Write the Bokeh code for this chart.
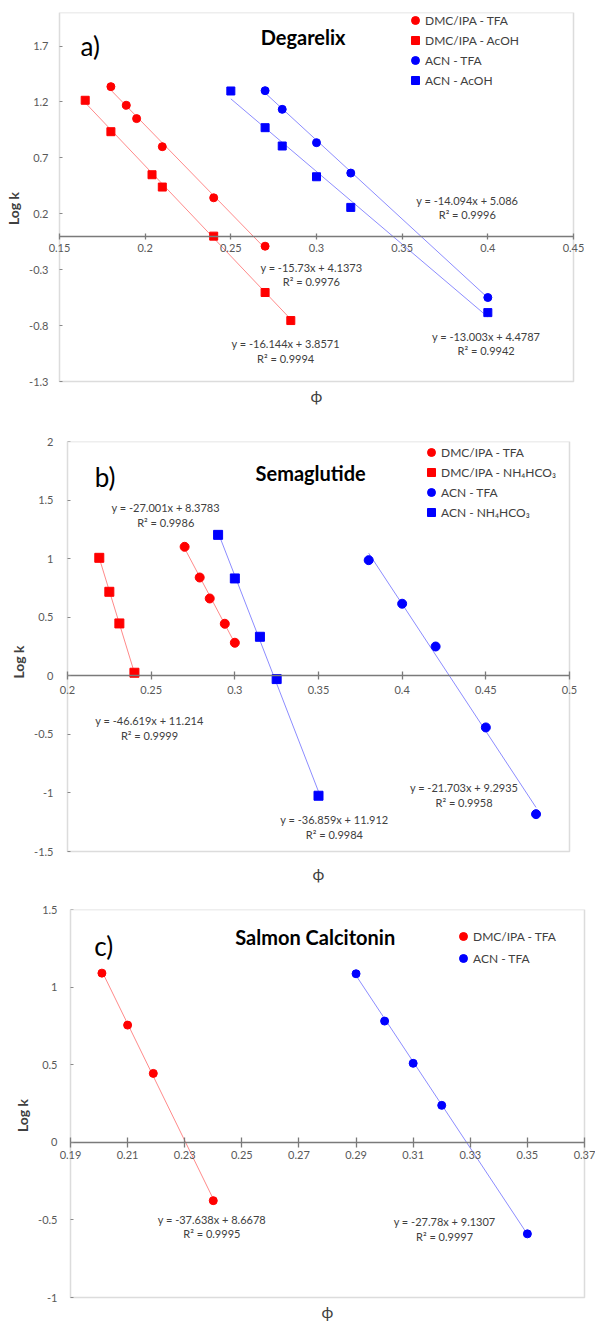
from bokeh.plotting import figure
from bokeh.layouts import column
from bokeh.models import (Range1d, FixedTicker, NumeralTickFormatter, Legend,
                          LegendItem, Label, LinearAxis, BoxAnnotation)
from bokeh.embed import file_html
from bokeh.resources import INLINE
from bokeh.core.properties import value

FONT = "Lato"
RED = "#ff0000"
BLUE = "#0000ff"
RED_LINE = "#ff8a8a"
BLUE_LINE = "#8c8cff"
FRAME = "#8a8a8a"

# ---------------- Panel a) Degarelix ----------------
A_X_TICKS = [0.15, 0.2, 0.25, 0.3, 0.35, 0.4, 0.45]
A_Y_TICKS = [-1.3, -0.8, -0.3, 0.2, 0.7, 1.2, 1.7]
A_DMC_TFA_X = [0.18, 0.189, 0.195, 0.21, 0.24, 0.27]
A_DMC_TFA_Y = [1.337, 1.170, 1.051, 0.800, 0.343, -0.090]
A_DMC_ACOH_X = [0.165, 0.18, 0.204, 0.21, 0.24, 0.27, 0.285]
A_DMC_ACOH_Y = [1.215, 0.934, 0.549, 0.439, 0.000, -0.504, -0.755]
A_ACN_TFA_X = [0.27, 0.28, 0.30, 0.32, 0.40]
A_ACN_TFA_Y = [1.301, 1.134, 0.836, 0.564, -0.549]
A_ACN_ACOH_X = [0.25, 0.27, 0.28, 0.30, 0.32, 0.40]
A_ACN_ACOH_Y = [1.298, 0.970, 0.806, 0.531, 0.257, -0.684]
A_NAMES = ["DMC/IPA - TFA", "DMC/IPA - AcOH", "ACN - TFA", "ACN - AcOH"]
A_SLOPES = [-15.73, -16.144, -14.094, -13.003]
A_INTERCEPTS = [4.1373, 3.8571, 5.086, 4.4787]
A_R2 = ["0.9976", "0.9994", "0.9996", "0.9942"]

# ---------------- Panel b) Semaglutide ----------------
B_X_TICKS = [0.2, 0.25, 0.3, 0.35, 0.4, 0.45, 0.5]
B_Y_TICKS = [-1.5, -1.0, -0.5, 0.0, 0.5, 1.0, 1.5, 2.0]
B_DMC_TFA_X = [0.27, 0.279, 0.285, 0.294, 0.30]
B_DMC_TFA_Y = [1.101, 0.839, 0.660, 0.444, 0.282]
B_DMC_NH4_X = [0.219, 0.225, 0.231, 0.24]
B_DMC_NH4_Y = [1.007, 0.717, 0.447, 0.026]
B_ACN_TFA_X = [0.38, 0.40, 0.42, 0.45, 0.48]
B_ACN_TFA_Y = [0.987, 0.615, 0.250, -0.441, -1.181]
B_ACN_NH4_X = [0.29, 0.30, 0.315, 0.325, 0.35]
B_ACN_NH4_Y = [1.203, 0.831, 0.333, -0.028, -1.024]
B_NAMES = ["DMC/IPA - TFA", "DMC/IPA - NH\u2084HCO\u2083", "ACN - TFA",
           "ACN - NH\u2084HCO\u2083"]
B_SLOPES = [-27.001, -46.619, -21.703, -36.859]
B_INTERCEPTS = [8.3783, 11.214, 9.2935, 11.912]
B_R2 = ["0.9986", "0.9999", "0.9958", "0.9984"]

# ---------------- Panel c) Salmon Calcitonin ----------------
C_X_TICKS = [0.19, 0.21, 0.23, 0.25, 0.27, 0.29, 0.31, 0.33, 0.35, 0.37]
C_Y_TICKS = [-1.0, -0.5, 0.0, 0.5, 1.0, 1.5]
C_DMC_TFA_X = [0.201, 0.21, 0.219, 0.24]
C_DMC_TFA_Y = [1.090, 0.755, 0.444, -0.376]
C_ACN_TFA_X = [0.29, 0.30, 0.31, 0.32, 0.35]
C_ACN_TFA_Y = [1.086, 0.781, 0.509, 0.238, -0.590]
C_NAMES = ["DMC/IPA - TFA", "ACN - TFA"]
C_SLOPES = [-37.638, -27.78]
C_INTERCEPTS = [8.6678, 9.1307]
C_R2 = ["0.9995", "0.9997"]

EX = 11  # px of frame beyond the plot box on left/right (room for edge tick labels)


def make_panel(cfg):
    x0, x1 = cfg["xr"]
    y0, y1 = cfg["yr"]
    bw, bh, eb = cfg["bw"], cfg["bh"], cfg["eb"]
    dx = EX * (x1 - x0) / bw
    dy = eb * (y1 - y0) / bh
    fw, fh = bw + 2 * EX, bh + eb
    p = figure(frame_width=fw, frame_height=fh,
               x_range=Range1d(x0 - dx, x1 + dx), y_range=Range1d(y0 - dy, y1),
               output_backend="svg", toolbar_location=None,
               min_border_left=cfg["bl"], min_border_right=0,
               min_border_top=cfg["bt"], min_border_bottom=cfg["bb"])
    p.frame_align = False
    p.xgrid.visible = False
    p.ygrid.visible = False
    p.outline_line_color = None
    p.background_fill_color = "white"
    p.border_fill_color = "white"

    p.add_layout(BoxAnnotation(left=x0, right=x1, bottom=y0, top=y1,
                               fill_alpha=0, line_color=FRAME, line_width=1.5))

    xa = p.xaxis[0]
    xa.fixed_location = 0
    xa.bounds = (x0, x1)
    xa.ticker = FixedTicker(ticks=cfg["xticks"])
    xa.formatter = NumeralTickFormatter(format="0.[00]")
    xa.major_tick_in = cfg["tick"]
    xa.major_tick_out = cfg["tick"]
    xa.minor_tick_line_color = None
    xa.axis_line_color = "#7a7a7a"
    xa.axis_line_width = 1.3
    xa.major_tick_line_color = "#7a7a7a"
    xa.major_tick_line_width = 1.3
    xa.major_label_standoff = cfg["xls"]
    xa.major_label_text_font = FONT
    xa.major_label_text_font_size = "11px"
    xa.major_label_text_color = "#595959"

    ya = p.yaxis[0]
    ya.bounds = (y0, y1)
    ya.ticker = FixedTicker(ticks=cfg["yticks"])
    ya.formatter = NumeralTickFormatter(format="0.[00]")
    ya.major_tick_in = 0
    ya.major_tick_out = 0
    ya.major_tick_line_color = None
    ya.minor_tick_line_color = None
    ya.axis_line_color = None
    ya.major_label_standoff = cfg["yls"]
    ya.major_label_text_font = FONT
    ya.major_label_text_font_size = "11px"
    ya.major_label_text_color = "#595959"
    ya.axis_label = "Log k"
    ya.axis_label_standoff = 4
    ya.axis_label_text_font = FONT
    ya.axis_label_text_font_size = "14px"
    ya.axis_label_text_font_style = "bold"
    ya.axis_label_text_color = "#404040"

    # inside tick marks on the left edge of the plot box (no labels)
    yt = LinearAxis(fixed_location=x0,
                    ticker=FixedTicker(ticks=[], minor_ticks=cfg["yticks"]),
                    major_tick_line_color=None, minor_tick_in=3,
                    minor_tick_out=0, minor_tick_line_color=FRAME,
                    axis_line_color=None)
    p.add_layout(yt, "left")

    items = []
    for (xs, ys, name, marker, color, lcolor, m, b, r2, pos) in cfg["series"]:
        xa0, xa1 = min(xs), max(xs)
        p.line([xa0, xa1], [m * xa0 + b, m * xa1 + b], line_color=lcolor,
               line_width=1.0)
    for (xs, ys, name, marker, color, lcolor, m, b, r2, pos) in cfg["series"]:
        r = p.scatter(xs, ys, marker=marker, size=cfg["msize"],
                      fill_color=color, line_color=color)
        items.append(LegendItem(label=name, renderers=[r]))
        lx, ly1, ly2 = pos
        p.text(x=[lx, lx], y=[ly1, ly2],
               text=["y = %sx + %s" % (repr(m), repr(b)), "R\u00b2 = " + r2],
               text_font=value(FONT), text_font_size="11px",
               text_align="center", text_baseline="middle",
               text_color="#404040")

    n = len(items)
    row = cfg["row"]
    leg_h = n * 20 + (n - 1) * (row - 20)
    legend = Legend(items=items,
                    location=(cfg["legx"], fh - cfg["legtop"] - leg_h),
                    orientation="vertical", glyph_width=20, glyph_height=20,
                    label_height=20, spacing=row - 20, padding=0, margin=0,
                    label_standoff=-3, border_line_color=None,
                    background_fill_alpha=0, label_text_font=FONT,
                    label_text_font_size="12px", label_text_color="#404040")
    p.add_layout(legend)

    tx, ty = cfg["title_pos"]
    p.add_layout(Label(x=tx, y=ty, text=cfg["title"], text_align="center",
                       text_baseline="middle", text_font=FONT,
                       text_font_size="20px", text_font_style="bold",
                       text_color="#000000"))
    lx, ly = cfg["tag_pos"]
    p.add_layout(Label(x=lx, y=ly, text=cfg["tag"], text_align="left",
                       text_baseline="middle", text_font=FONT,
                       text_font_size="26px", text_color="#000000"))
    p.add_layout(Label(x=(x0 + x1) / 2, y=y0, y_offset=-cfg["phi"],
                       text="\u03d5", text_align="center",
                       text_baseline="middle", text_font=FONT,
                       text_font_size="16px", text_color="#404040"))
    return p


pa = make_panel(dict(
    bw=514, bh=369, eb=23, xr=(0.15, 0.45), yr=(-1.3, 2.0),
    bl=48, bt=12, bb=16,
    xticks=A_X_TICKS, yticks=A_Y_TICKS, tick=3, xls=5, yls=0, msize=8,
    series=[
        (A_DMC_TFA_X, A_DMC_TFA_Y, A_NAMES[0], "circle", RED, RED_LINE,
         A_SLOPES[0], A_INTERCEPTS[0], A_R2[0], (0.297, -0.284, -0.409)),
        (A_DMC_ACOH_X, A_DMC_ACOH_Y, A_NAMES[1], "square", RED, RED_LINE,
         A_SLOPES[1], A_INTERCEPTS[1], A_R2[1], (0.282, -0.964, -1.090)),
        (A_ACN_TFA_X, A_ACN_TFA_Y, A_NAMES[2], "circle", BLUE, BLUE_LINE,
         A_SLOPES[2], A_INTERCEPTS[2], A_R2[2], (0.388, 0.319, 0.194)),
        (A_ACN_ACOH_X, A_ACN_ACOH_Y, A_NAMES[3], "square", BLUE, BLUE_LINE,
         A_SLOPES[3], A_INTERCEPTS[3], A_R2[3], (0.399, -0.896, -1.024)),
    ],
    row=18, legx=357, legtop=4,
    title="Degarelix", title_pos=(0.2922, 1.78), tag="a)",
    tag_pos=(0.1623, 1.70), phi=14))

pb = make_panel(dict(
    bw=502, bh=410, eb=31, xr=(0.2, 0.5), yr=(-1.5, 2.0),
    bl=56, bt=21, bb=2,
    xticks=B_X_TICKS, yticks=B_Y_TICKS, tick=4, xls=6, yls=3, msize=9,
    series=[
        (B_DMC_TFA_X, B_DMC_TFA_Y, B_NAMES[0], "circle", RED, RED_LINE,
         B_SLOPES[0], B_INTERCEPTS[0], B_R2[0], (0.2587, 1.434, 1.306)),
        (B_DMC_NH4_X, B_DMC_NH4_Y, B_NAMES[1], "square", RED, RED_LINE,
         B_SLOPES[1], B_INTERCEPTS[1], B_R2[1], (0.249, -0.381, -0.506)),
        (B_ACN_TFA_X, B_ACN_TFA_Y, B_NAMES[2], "circle", BLUE, BLUE_LINE,
         B_SLOPES[2], B_INTERCEPTS[2], B_R2[2], (0.437, -0.950, -1.078)),
        (B_ACN_NH4_X, B_ACN_NH4_Y, B_NAMES[3], "square", BLUE, BLUE_LINE,
         B_SLOPES[3], B_INTERCEPTS[3], B_R2[3], (0.3595, -1.226, -1.354)),
    ],
    row=18, legx=365, legtop=7,
    title="Semaglutide", title_pos=(0.3453, 1.73), tag="b)",
    tag_pos=(0.2163, 1.70), phi=22))

pc = make_panel(dict(
    bw=514, bh=388, eb=24, xr=(0.19, 0.37), yr=(-1.0, 1.5),
    bl=59, bt=25, bb=0,
    xticks=C_X_TICKS, yticks=C_Y_TICKS, tick=5, xls=4, yls=2, msize=8,
    series=[
        (C_DMC_TFA_X, C_DMC_TFA_Y, C_NAMES[0], "circle", RED, RED_LINE,
         C_SLOPES[0], C_INTERCEPTS[0], C_R2[0], (0.2395, -0.496, -0.590)),
        (C_ACN_TFA_X, C_ACN_TFA_Y, C_NAMES[1], "circle", BLUE, BLUE_LINE,
         C_SLOPES[1], C_INTERCEPTS[1], C_R2[1], (0.321, -0.511, -0.607)),
    ],
    row=22, legx=394, legtop=17,
    title="Salmon Calcitonin", title_pos=(0.2757, 1.322), tag="c)",
    tag_pos=(0.1983, 1.268), phi=14))

layout = column(pa, pb, pc)
open("out.html", "w").write(file_html(layout, INLINE))
